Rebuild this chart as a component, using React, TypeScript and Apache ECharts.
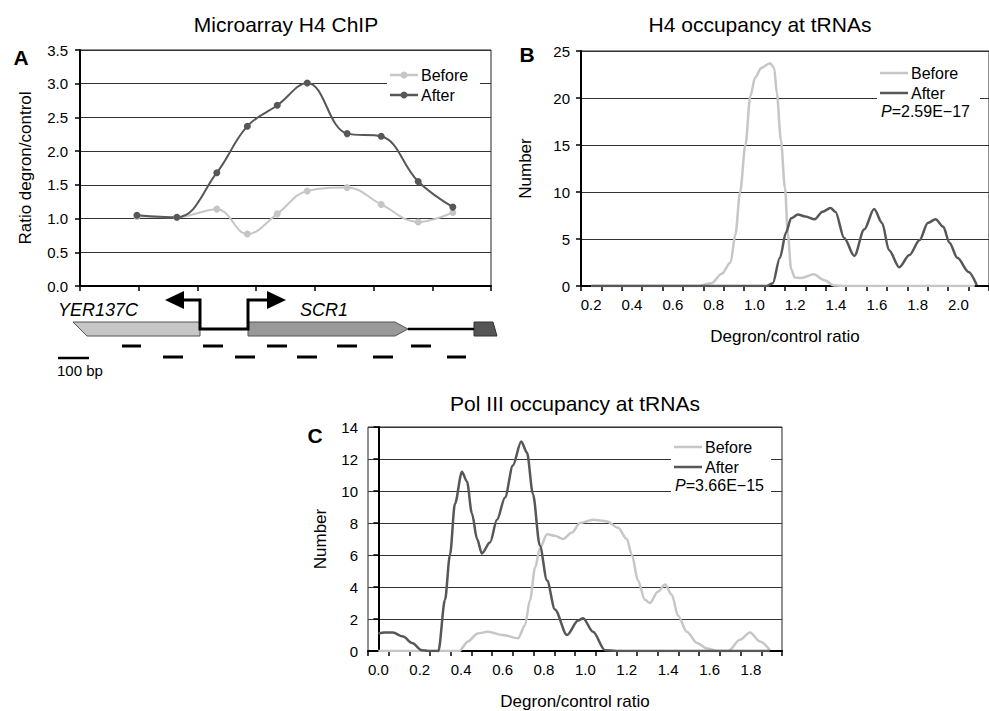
import React, { useEffect, useRef } from "react";
import * as echarts from "echarts";

const FONT = "'Liberation Sans', Arial, Helvetica, sans-serif";

// Panel A: probe positions (x in axis units) and ratios
const aProbeX = [0.97, 1.65, 2.33, 2.85, 3.36, 3.87, 4.55, 5.13, 5.76, 6.35];
const aBefore = [1.03, 1.02, 1.14, 0.77, 1.07, 1.41, 1.46, 1.21, 0.95, 1.09];
const aAfter = [1.05, 1.02, 1.68, 2.37, 2.68, 3.01, 2.26, 2.22, 1.55, 1.17];

// Panel B: H4 occupancy distributions
const bCats = ["0.2", "0.3", "0.4", "0.5", "0.6", "0.7", "0.8", "0.9", "1.0", "1.1", "1.2", "1.3", "1.4", "1.5", "1.6", "1.7", "1.8", "1.9", "2.0", "2.1"];
const bBeforeX = [0.2, 0.72, 0.79, 0.84, 0.883, 0.907, 0.93, 0.956, 0.98, 1.004, 1.034, 1.077, 1.097, 1.11, 1.13, 1.15, 1.164, 1.18, 1.198, 1.23, 1.29, 1.344, 1.39, 1.45, 2.08];
const bBeforeY = [0, 0, 0.3, 1.3, 2.5, 5.5, 10.0, 15.0, 20.2, 22.2, 23.2, 23.7, 23.2, 20.5, 15.5, 10.4, 5.5, 1.8, 0.9, 0.85, 1.25, 0.6, 0.05, 0, 0];
const bAfterX = [0.2, 1.06, 1.09, 1.125, 1.155, 1.18, 1.213, 1.25, 1.295, 1.334, 1.373, 1.397, 1.44, 1.49, 1.538, 1.587, 1.626, 1.66, 1.71, 1.76, 1.81, 1.85, 1.888, 1.926, 1.956, 1.995, 2.05, 2.09];
const bAfterY = [0, 0, 0.3, 3.0, 5.7, 7.2, 7.6, 7.4, 7.1, 7.9, 8.3, 7.9, 5.1, 3.2, 6.0, 8.2, 6.7, 3.8, 2.0, 3.3, 4.9, 6.7, 7.1, 6.3, 4.6, 3.0, 1.5, 0.1];

// Panel C: Pol III occupancy distributions
const cCats = ["0.0", "0.1", "0.2", "0.3", "0.4", "0.5", "0.6", "0.7", "0.8", "0.9", "1.0", "1.1", "1.2", "1.3", "1.4", "1.5", "1.6", "1.7", "1.8", "1.9"];
const cBeforeX = [0.0, 0.39, 0.433, 0.48, 0.53, 0.6, 0.675, 0.708, 0.733, 0.757, 0.78, 0.815, 0.853, 0.892, 0.935, 0.974, 1.037, 1.105, 1.158, 1.2, 1.225, 1.254, 1.288, 1.312, 1.35, 1.385, 1.418, 1.448, 1.49, 1.54, 1.588, 1.636, 1.69, 1.747, 1.795, 1.844, 1.892];
const cBeforeY = [0, 0, 0.6, 1.1, 1.2, 1.0, 0.8, 1.6, 3.2, 5.2, 6.4, 7.3, 7.2, 7.0, 7.4, 8.0, 8.2, 8.1, 7.7, 7.0, 6.0, 4.4, 3.2, 3.0, 3.7, 4.15, 3.5, 2.2, 1.2, 0.5, 0.15, 0, 0, 0.7, 1.15, 0.6, 0.05];
const cAfterX = [0.0, 0.03, 0.07, 0.12, 0.163, 0.21, 0.24, 0.29, 0.322, 0.346, 0.37, 0.404, 0.428, 0.452, 0.477, 0.5, 0.54, 0.573, 0.612, 0.65, 0.69, 0.718, 0.747, 0.78, 0.815, 0.853, 0.911, 0.965, 0.989, 1.037, 1.095, 1.15, 1.89];
const cAfterY = [1.1, 1.15, 1.15, 0.9, 0.5, 0.05, 0, 0, 3.2, 6.0, 9.2, 11.2, 10.6, 8.6, 7.0, 6.1, 6.8, 8.2, 9.6, 11.6, 13.1, 12.4, 9.8, 6.6, 4.4, 2.6, 1.0, 1.9, 2.05, 1.2, 0.05, 0, 0];

const LIGHT = "#c6c6c6";
const DARK = "#575757";

const zip = (xs: number[], ys: number[]) => xs.map((x, i) => [x, ys[i]]);

const txt = (text: string, x: number, y: number, size: number, extra: any = {}) => ({
  type: "text",
  x,
  y,
  z: 101,
  style: {
    text,
    fill: "#000",
    font: `${extra.fontStyle || "normal"} ${extra.fontWeight || "normal"} ${size}px ${FONT}`,
    textAlign: extra.align || "left",
    textVerticalAlign: "middle",
  },
});

const hline = (x1: number, x2: number, y: number, w: number, color = "#000") => ({
  type: "line",
  z: 101,
  shape: { x1, y1: y, x2, y2: y },
  style: { stroke: color, lineWidth: w },
});

const legendBlock = (left: number, top: number, w: number, h: number, withMarker: boolean, pText: string | null) => {
  const els: any[] = [
    { type: "rect", z: 100, shape: { x: left, y: top, width: w, height: h }, style: { fill: "#fff" } },
  ];
  const lx1 = left + 3;
  const lx2 = left + 31;
  const rows: [string, string, number][] = [
    ["Before", LIGHT, top + 11],
    ["After", DARK, top + 31],
  ];
  rows.forEach(([name, color, y]) => {
    els.push(hline(lx1, lx2, y, 2.5, color));
    if (withMarker) {
      els.push({ type: "circle", z: 101, shape: { cx: (lx1 + lx2) / 2, cy: y, r: 3.5 }, style: { fill: color } });
    }
    els.push(txt(name, lx2 + 3, y, 16));
  });
  if (pText) {
    els.push({
      type: "text",
      x: left + 4,
      y: top + 49,
      z: 101,
      style: {
        rich: {
          i: { fontStyle: "italic", fontSize: 16, fontFamily: FONT, fill: "#000" },
          n: { fontSize: 16, fontFamily: FONT, fill: "#000" },
        },
        text: `{i|P}{n|=${pText}}`,
        textVerticalAlign: "middle",
      },
    });
  }
  return els;
};

const geneDiagram = () => {
  const els: any[] = [];
  els.push({
    type: "polygon",
    z: 100,
    shape: { points: [[73, 322], [200, 322], [200, 336], [87, 336]] },
    style: { fill: "#c6c6c6", stroke: "#555", lineWidth: 1 },
  });
  els.push({
    type: "polygon",
    z: 100,
    shape: { points: [[248, 322], [395, 322], [408, 329], [395, 336], [248, 336]] },
    style: { fill: "#999", stroke: "#555", lineWidth: 1 },
  });
  els.push({
    type: "polygon",
    z: 100,
    shape: { points: [[474, 322], [493, 322], [497, 336], [474, 336]] },
    style: { fill: "#555", stroke: "#333", lineWidth: 1 },
  });
  els.push({
    type: "polyline",
    z: 101,
    shape: { points: [[182, 300], [200, 300], [200, 329], [248, 329], [248, 300], [268, 300]] },
    style: { stroke: "#000", lineWidth: 3, fill: null },
  });
  els.push(hline(408, 474, 329, 2.5));
  els.push({ type: "polygon", z: 101, shape: { points: [[165, 300], [184, 291], [184, 309]] }, style: { fill: "#000" } });
  els.push({ type: "polygon", z: 101, shape: { points: [[286, 300], [267, 291], [267, 309]] }, style: { fill: "#000" } });
  els.push(txt("YER137C", 58, 310, 18, { fontStyle: "italic" }));
  els.push(txt("SCR1", 300, 310, 18, { fontStyle: "italic" }));
  const row1 = [[122, 141], [203, 223], [267, 287], [337, 357], [411, 431]];
  const row2 = [[163, 183], [235, 255], [297, 317], [373, 393], [447, 466]];
  row1.forEach(([a, b]) => els.push(hline(a, b, 346, 3)));
  row2.forEach(([a, b]) => els.push(hline(a, b, 357, 3)));
  els.push(hline(58, 89, 358, 2.5));
  els.push(txt("100 bp", 57, 370, 15));
  return els;
};

const axisText = { fontFamily: FONT, fontSize: 15, color: "#000" };
const nameText = { fontFamily: FONT, fontSize: 17, color: "#000" };
const axLine = { show: true, lineStyle: { color: "#000", width: 2 } };
const axTick = { show: true, length: 5, lineStyle: { color: "#000", width: 1.5 } };
const split = { show: true, lineStyle: { color: "#333", width: 1 } };

const lineSeries = (name: string, xAxisIndex: number, yAxisIndex: number, data: number[][], color: string, marker: boolean) => ({
  name,
  type: "line",
  xAxisIndex,
  yAxisIndex,
  data,
  smooth: marker ? 0.4 : 0.3,
  smoothMonotone: marker ? undefined : "x",
  showSymbol: marker,
  symbol: "circle",
  symbolSize: 7,
  itemStyle: { color },
  lineStyle: { color, width: marker ? 2 : 2.5 },
  z: 5,
});

export default function App() {
  const ref = useRef<HTMLDivElement>(null);
  useEffect(() => {
    if (!ref.current) return;
    const chart = echarts.init(ref.current, undefined, { renderer: "svg" });
    const option: any = {
      animation: false,
      backgroundColor: "#fff",
      textStyle: { fontFamily: FONT },
      grid: [
        { left: 80, top: 50, width: 411, height: 236, show: true, borderColor: "#222", borderWidth: 1 },
        { left: 581, top: 51, width: 412, height: 235, show: true, borderColor: "#222", borderWidth: 1 },
        { left: 368, top: 427, width: 414, height: 233, show: true, borderColor: "#222", borderWidth: 1 },
      ],
      xAxis: [
        {
          gridIndex: 0, type: "value", min: 0, max: 7, interval: 1,
          axisLine: axLine, axisTick: axTick, axisLabel: { show: false }, splitLine: { show: false },
        },
        {
          gridIndex: 1, type: "category", data: bCats, boundaryGap: true,
          axisLine: axLine, axisTick: { ...axTick, interval: 0, alignWithLabel: false },
          axisLabel: { ...axisText, interval: 1, margin: 11 },
          splitLine: { show: false },
          name: "Degron/control ratio", nameLocation: "middle", nameGap: 42, nameTextStyle: nameText,
        },
        { gridIndex: 1, type: "value", min: 0.15, max: 2.15, show: false },
        {
          gridIndex: 2, type: "category", data: cCats, boundaryGap: true,
          axisLine: axLine, axisTick: { ...axTick, interval: 0, alignWithLabel: false },
          axisLabel: { ...axisText, interval: 1, margin: 11 },
          splitLine: { show: false },
          name: "Degron/control ratio", nameLocation: "middle", nameGap: 42, nameTextStyle: nameText,
        },
        { gridIndex: 2, type: "value", min: -0.05, max: 1.95, show: false },
      ],
      yAxis: [
        {
          gridIndex: 0, type: "value", min: 0, max: 3.5, interval: 0.5,
          axisLine: axLine, axisTick: axTick, splitLine: split,
          axisLabel: { ...axisText, formatter: (v: number) => v.toFixed(1), margin: 12 },
          name: "Ratio degron/control", nameLocation: "middle", nameGap: 46, nameTextStyle: nameText,
        },
        {
          gridIndex: 1, type: "value", min: 0, max: 25, interval: 5,
          axisLine: axLine, axisTick: axTick, splitLine: split,
          axisLabel: { ...axisText, margin: 11 },
          name: "Number", nameLocation: "middle", nameGap: 47, nameTextStyle: nameText,
        },
        {
          gridIndex: 2, type: "value", min: 0, max: 14, interval: 2,
          axisLine: axLine, axisTick: axTick, splitLine: split,
          axisLabel: { ...axisText, margin: 10 },
          name: "Number", nameLocation: "middle", nameGap: 39, nameTextStyle: nameText,
        },
      ],
      series: [
        lineSeries("Before", 0, 0, zip(aProbeX, aBefore), LIGHT, true),
        lineSeries("After", 0, 0, zip(aProbeX, aAfter), DARK, true),
        lineSeries("Before", 2, 1, zip(bBeforeX, bBeforeY), LIGHT, false),
        lineSeries("After", 2, 1, zip(bAfterX, bAfterY), DARK, false),
        lineSeries("Before", 4, 2, zip(cBeforeX, cBeforeY), LIGHT, false),
        lineSeries("After", 4, 2, zip(cAfterX, cAfterY), DARK, false),
      ],
      graphic: {
        elements: [
          txt("Microarray H4 ChIP", 286, 24, 21, { align: "center" }),
          txt("H4 occupancy at tRNAs", 760, 24, 21, { align: "center" }),
          txt("Pol III occupancy at tRNAs", 575, 403, 21, { align: "center" }),
          txt("A", 21, 57, 21, { fontWeight: "bold", align: "center" }),
          txt("B", 527, 54, 21, { fontWeight: "bold", align: "center" }),
          txt("C", 315, 435, 21, { fontWeight: "bold", align: "center" }),
          ...legendBlock(387, 64, 93, 42, true, null),
          ...legendBlock(877, 62, 103, 58, false, "2.59E\u221217"),
          ...legendBlock(671, 436, 100, 58, false, "3.66E\u221215"),
          ...geneDiagram(),
        ],
      },
    };
    chart.setOption(option);
    return () => chart.dispose();
  }, []);
  return <div ref={ref} style={{ position: "absolute", left: 0, top: 0, width: 989, height: 711 }} />;
}
